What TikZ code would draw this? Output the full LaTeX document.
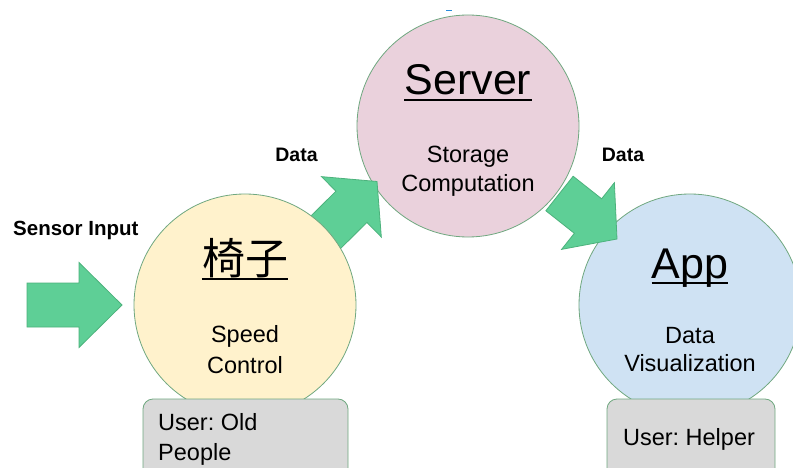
\documentclass[tikz,border=0pt]{standalone}
\usepackage{fontspec}
\setmainfont{Liberation Sans}
\newfontfamily\cjk{Noto Sans CJK SC}
\usetikzlibrary{calc}
\frenchspacing
\definecolor{ylwfill}{HTML}{FFF2CC}
\definecolor{pnkfill}{HTML}{EAD1DC}
\definecolor{blufill}{HTML}{CFE2F3}
\definecolor{ringc}{RGB}{112,168,128}
\definecolor{boxfill}{HTML}{D9D9D9}
\definecolor{arrowfill}{RGB}{94,207,150}
\definecolor{arrowline}{RGB}{76,178,124}
\definecolor{dashblue}{RGB}{40,140,220}
\tikzset{
  bubble/.style={circle, draw=ringc, line width=0.8pt, minimum size=222pt, inner sep=0pt},
  userbox/.style={draw=ringc, fill=boxfill, line width=0.8pt, rounded corners=10pt},
  body/.style={inner sep=0pt, anchor=base, font=\fontsize{23.5}{28}\selectfont},
  title/.style={inner sep=0pt, anchor=base, font=\fontsize{43}{50}\selectfont},
  lbl/.style={inner sep=0pt, anchor=base, font=\fontsize{19.5}{24}\selectfont\bfseries},
  ul/.style={line width=2.6pt, draw=black},
  blockarrow/.style={fill=arrowfill, draw=arrowline, line width=0.8pt, line join=miter}
}
\newcommand\blockarrow[3]{%
  \coordinate (#1-b) at ($(#2)!#3!(#1)$);
  \draw[blockarrow] ($(#1)!22pt!90:(#2)$) -- ($(#1-b)!22pt!90:(#2)$) -- ($(#1-b)!42.5pt!90:(#2)$) -- (#2)
    -- ($(#1-b)!42.5pt!-90:(#2)$) -- ($(#1-b)!22pt!-90:(#2)$) -- ($(#1)!22pt!-90:(#2)$) -- cycle;
}
\begin{document}
\begin{tikzpicture}[x=1pt,y=-1pt]
\useasboundingbox (0,0) rectangle (793,468);
\clip (0,0) rectangle (793,468);
\fill[white] (0,0) rectangle (793,468);
\draw[dashblue, line width=1pt] (446,10.5) -- (452,10.5);
% circles and boxes
\node[bubble, fill=pnkfill] (server) at (468,126) {};
\node[bubble, fill=blufill] (app) at (690,305) {};
\draw[userbox] (607,399) rectangle (775,490);
% arrows
\coordinate (a1t) at (27,305);
\coordinate (a1p) at (122,305);
\blockarrow{a1t}{a1p}{43pt}
\coordinate (a3t) at (559.5,193.5);
\coordinate (a3p) at (617,239);
\blockarrow{a3t}{a3p}{37pt}
\coordinate (a2t) at (325,233);
\coordinate (a2p) at (377,181.5);
\blockarrow{a2t}{a2p}{36pt}
\node[bubble, fill=ylwfill] (chair) at (245,305) {};
\draw[userbox] (143,399) rectangle (348,490);
% titles
\node[title, font=\fontsize{43}{50}\cjk] (chairT) at (245,274) {椅子};
\draw[ul] ([yshift=-5pt]chairT.base west) -- ([yshift=-5pt]chairT.base east);
\node[title] (serverT) at (468,95) {Server};
\draw[ul] ([yshift=-5pt]serverT.base west) -- ([yshift=-5pt]serverT.base east);
\node[title] (appT) at (690,278) {App};
\draw[ul] ([yshift=-5pt]appT.base west) -- ([yshift=-5pt]appT.base east);
% body texts
\node[body] (sp1) at (245,342) {Speed};
\node[body] (sp2) at (245,373) {Control};
\node[body] (st1) at (468,163) {Storage};
\node[body] (st2) at (468,192) {Computation};
\node[body] (dv1) at (690,343) {Data};
\node[body] (dv2) at (690,371) {Visualization};
\node[body, anchor=base west] (u1) at (158,430) {User: Old};
\node[body, anchor=base west] (u2) at (158,460) {People};
\node[body] (u3) at (689,445) {User: Helper};
% labels
\node[lbl, anchor=base west, font=\fontsize{20.5}{24}\selectfont\bfseries] (sensor) at (13,235) {Sensor Input};
\node[lbl] (data1) at (296.5,162) {Data};
\node[lbl] (data2) at (623,162) {Data};
\end{tikzpicture}
\end{document}
